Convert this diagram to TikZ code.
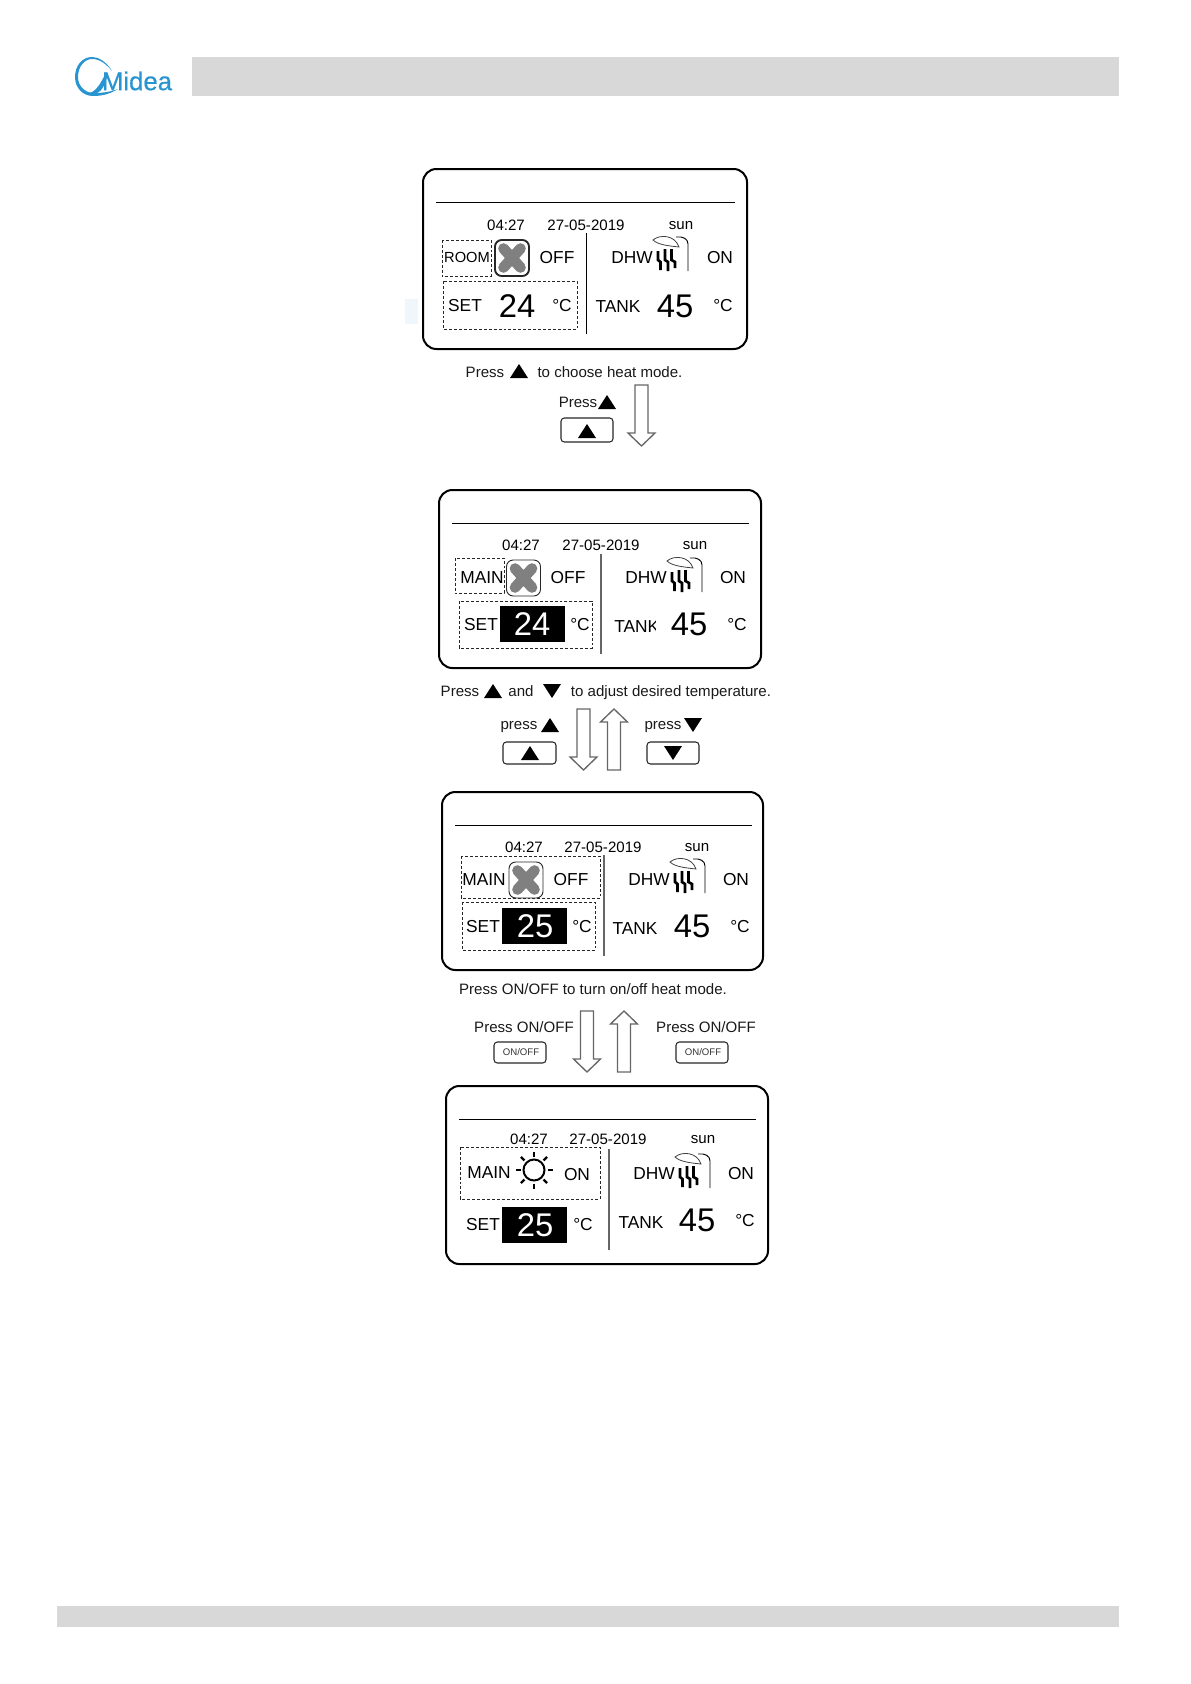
\documentclass[tikz,border=0pt]{standalone}
\usepackage{fontspec}
\setmainfont{Liberation Sans}
\newfontfamily\logofont[FakeBold=0.5]{Liberation Sans}
\usepackage{xcolor}
\definecolor{midablue}{RGB}{40,148,208}
\definecolor{bargray}{RGB}{216,216,216}
\definecolor{fangray}{RGB}{128,128,128}
\definecolor{smudgeblue}{RGB}{240,247,252}
\tikzset{
    lcdtext/.style={inner sep=0pt, font=\fontsize{13}{15}\selectfont},
    roomtext/.style={inner sep=0pt, font=\fontsize{11}{13}\selectfont},
    timetext/.style={inner sep=0pt, font=\fontsize{11.3}{13}\selectfont},
    bigtext/.style={inner sep=0pt, font=\fontsize{24.6}{28}\selectfont},
    invtext/.style={bigtext, text=white},
    notetext/.style={inner sep=0pt, font=\fontsize{11.3}{13}\selectfont, text=black!90},
    tinytext/.style={inner sep=0pt, font=\fontsize{7.2}{9}\selectfont, text=black!80},
    panelbox/.style={draw, line width=1.5pt, rounded corners=10pt},
    dashbox/.style={draw=black!85, line width=0.7pt, dash pattern=on 2.2pt off 1.5pt},
    keybox/.style={draw=black!85, line width=0.8pt, rounded corners=2.5pt},
    headline/.style={line width=0.6pt},
    midline/.style={line width=1.2pt, draw=black!60},
    blockarrow/.style={draw=black!60, line width=1pt, fill=white},
    uptri/.pic={\fill (-9,7) -- (9,7) -- (0,-7) -- cycle;},
    downtri/.pic={\fill (-9,-7) -- (9,-7) -- (0,7) -- cycle;},
    downblock/.pic={\path[blockarrow] (-6.5,0) -- (6.5,0) -- (6.5,48) -- (13.5,48) -- (0,61) -- (-13.5,48) -- (-6.5,48) -- cycle;},
    upblock/.pic={\path[blockarrow] (-6.5,61) -- (6.5,61) -- (6.5,13) -- (13.5,13) -- (0,0) -- (-13.5,13) -- (-6.5,13) -- cycle;},
    fanicon/.pic={
        \draw[line width=#1, rounded corners=5pt, draw=black!85] (-17,-18) rectangle (17,18);
        \draw[fangray, line width=8pt, line cap=round] (-8.5,-9.5) -- (8.5,9.5) (-8.5,9.5) -- (8.5,-9.5);
    },
    showericon/.pic={
        \draw[line width=0.7pt] (0,0) -- (0,-27) .. controls (0,-32) and (-5,-35) .. (-12,-34);
        \draw[line width=0.6pt, draw=black!75, fill=white] (-35,-31) .. controls (-28,-37) and (-13,-36) .. (-9,-24) .. controls (-18,-25) and (-30,-26) .. (-35,-31) -- cycle;
        \draw[line width=2pt] (-30,-20) -- (-30,-11) -- (-27.5,-9) -- (-27.5,-1);
        \draw[line width=2pt] (-23,-22) -- (-23,-11) -- (-20,-9) -- (-20,0);
        \draw[line width=2pt] (-16.5,-22) -- (-16.5,-11) -- (-13,-9) -- (-13,-3);
    },
    sunicon/.pic={
        \draw[line width=1.5pt] (0,0) circle (10.5);
        \foreach \a in {0,45,...,315} {\draw[line width=1.8pt] (\a:13.5) -- (\a:18.5);}
    },
}
\begin{document}
\begin{tikzpicture}[x=0.75pt,y=-0.75pt]
    \useasboundingbox (0,0) rectangle (1191,1684);
    \fill[bargray] (192,57) rectangle (1119,96);
    \fill[bargray] (57,1606) rectangle (1119,1627);
    \fill[midablue] (112,71) .. controls (106,61) and (98,57) .. (92,57) .. controls (82,57) and (75,66) .. (75,77) .. controls (75,88) and (83,96) .. (93,96) .. controls (102,96) and (110,94) .. (118,89) .. controls (110,92) and (102,93) .. (94,93) .. controls (85,93) and (78,86) .. (78,77) .. controls (78,66) and (85,59) .. (92,59) .. controls (100,59) and (106,64) .. (112,71) -- cycle;
    \fill[midablue] (90,93) .. controls (98,90) and (102,80) .. (106,73) -- (108,73) .. controls (106,82) and (103,91) .. (96,93.5) -- cycle;
    \node[inner sep=0pt, text=midablue, font=\logofont\fontsize{19.3}{22}\selectfont] (logo) at (137,81) {Midea};
    \fill[smudgeblue] (405,299) rectangle (418,324);

    \draw[panelbox] (423,169) rectangle (747,349);
    \draw[headline] (436,202) -- (735,202);
    \draw[line width=0.7pt] (586,233) -- (586,334);
    \node[timetext] (timeA) at (506,225) {04:27};
    \node[timetext] (dateA) at (586,225) {27-05-2019};
    \node[timetext] (dayA) at (681,226) {sun};
    \draw[dashbox] (442,240) rectangle (491,276);
    \draw[dashbox] (443,281) rectangle (577,329);
    \node[roomtext] (modeA) at (467,257) {ROOM};
    \pic at (512,258) {fanicon=1.4pt};
    \node[lcdtext] (stateA) at (557,258) {OFF};
    \node[lcdtext] (setA) at (465,306) {SET};
    \node[bigtext] (tempA) at (517,306) {24};
    \node[lcdtext] (unitA) at (562,306) {°C};
    \node[lcdtext] (dhwA) at (632,258) {DHW};
    \pic at (688,271) {showericon};
    \node[lcdtext] (dhwstateA) at (720,258) {ON};
    \node[lcdtext] (tankA) at (618,307) {TANK};
    \node[bigtext] (tanktempA) at (675,306) {45};
    \node[lcdtext] (tankunitA) at (723,306) {°C};

    \node[notetext] (pressA) at (485,372) {Press};
    \pic at (519,371) {uptri};
    \node[notetext] (noteA) at (610,372) {to choose heat mode.};
    \node[notetext] (pressB) at (578,402) {Press};
    \pic at (607,402) {uptri};
    \draw[keybox] (561,418) rectangle (613,442);
    \pic at (587,431) {uptri};
    \pic at (641.5,385) {downblock};

    \draw[panelbox] (439,490) rectangle (761,668);
    \draw[headline] (452,523) -- (749,523);
    \draw[midline] (601,554) -- (601,654);
    \node[timetext] (timeB) at (521,545) {04:27};
    \node[timetext] (dateB) at (601,545) {27-05-2019};
    \node[timetext] (dayB) at (695,546) {sun};
    \draw[dashbox] (455,558) rectangle (504,593);
    \draw[dashbox] (459,601) rectangle (592,648);
    \node[lcdtext] (modeB) at (482,578) {MAIN};
    \pic at (523.5,578) {fanicon=0.7pt};
    \node[lcdtext] (stateB) at (568,578) {OFF};
    \node[lcdtext] (setB) at (481,625) {SET};
    \fill (500,606) rectangle (565,642);
    \node[invtext] (tempB) at (532,624) {24};
    \node[lcdtext] (unitB) at (580,625) {°C};
    \node[lcdtext] (dhwB) at (646,578) {DHW};
    \pic at (702,592) {showericon};
    \node[lcdtext] (dhwstateB) at (733,578) {ON};
    \node[lcdtext, anchor=west] (tankB) at (614,627) {TANK};
    \fill[white] (656,615) rectangle (663,639);
    \node[bigtext] (tanktempB) at (689,624) {45};
    \node[lcdtext] (tankunitB) at (737,625) {°C};

    \node[notetext] (pressC) at (460,691) {Press};
    \pic at (493,691) {uptri};
    \node[notetext] (andC) at (521,691) {and};
    \pic at (552,691) {downtri};
    \node[notetext] (noteC) at (671,693) {to adjust desired temperature.};
    \node[notetext] (pressD) at (519,727) {press};
    \pic at (550,725) {uptri};
    \draw[keybox] (503,742) rectangle (556,764);
    \pic at (530,753) {uptri};
    \node[notetext] (pressE) at (663,727) {press};
    \pic at (693,725) {downtri};
    \draw[keybox] (647,742) rectangle (699,764);
    \pic at (673,753) {downtri};
    \pic at (583.5,709) {downblock};
    \pic at (614,709) {upblock};

    \draw[panelbox] (442,792) rectangle (763,970);
    \draw[headline] (455,825) -- (752,825);
    \draw[midline] (604,855) -- (604,956);
    \node[timetext] (timeC) at (524,847) {04:27};
    \node[timetext] (dateC) at (603,847) {27-05-2019};
    \node[timetext] (dayC) at (697,848) {sun};
    \draw[dashbox] (461,856) rectangle (600,898);
    \draw[dashbox] (462,902) rectangle (595,950);
    \node[lcdtext] (modeC) at (484,880) {MAIN};
    \pic at (526,880) {fanicon=0.7pt};
    \node[lcdtext] (stateC) at (571,880) {OFF};
    \node[lcdtext] (setC) at (483,927) {SET};
    \fill (502,908) rectangle (567,944);
    \node[invtext] (tempC) at (535,926) {25};
    \node[lcdtext] (unitC) at (582,927) {°C};
    \node[lcdtext] (dhwC) at (649,880) {DHW};
    \pic at (705,893) {showericon};
    \node[lcdtext] (dhwstateC) at (736,880) {ON};
    \node[lcdtext] (tankC) at (635,929) {TANK};
    \node[bigtext] (tanktempC) at (692,926) {45};
    \node[lcdtext] (tankunitC) at (740,927) {°C};

    \node[notetext] (noteD) at (593,989) {Press ON/OFF to turn on/off heat mode.};
    \node[notetext] (pressF) at (524,1027) {Press ON/OFF};
    \draw[keybox] (494,1042) rectangle (546,1063);
    \node[tinytext] (keyF) at (521,1052.5) {ON/OFF};
    \node[notetext] (pressG) at (706,1027) {Press ON/OFF};
    \draw[keybox] (676,1042) rectangle (728,1063);
    \node[tinytext] (keyG) at (703,1052.5) {ON/OFF};
    \pic at (587,1011) {downblock};
    \pic at (624,1011) {upblock};

    \draw[panelbox] (446,1086) rectangle (768,1264);
    \draw[headline] (459,1119) -- (756,1119);
    \draw[midline] (609,1149) -- (609,1250);
    \node[timetext] (timeD) at (529,1139) {04:27};
    \node[timetext] (dateD) at (608,1139) {27-05-2019};
    \node[timetext] (dayD) at (703,1140) {sun};
    \draw[dashbox] (460,1147) rectangle (600,1199);
    \node[lcdtext] (modeD) at (489,1173) {MAIN};
    \pic at (534,1170) {sunicon};
    \node[lcdtext] (stateD) at (577,1175) {ON};
    \node[lcdtext] (setD) at (483,1225) {SET};
    \fill (502,1207) rectangle (567,1243);
    \node[invtext] (tempD) at (535,1225) {25};
    \node[lcdtext] (unitD) at (583,1225) {°C};
    \node[lcdtext] (dhwD) at (654,1174) {DHW};
    \pic at (710,1188) {showericon};
    \node[lcdtext] (dhwstateD) at (741,1174) {ON};
    \node[lcdtext] (tankD) at (641,1223) {TANK};
    \node[bigtext] (tanktempD) at (697,1220) {45};
    \node[lcdtext] (tankunitD) at (745,1221) {°C};
\end{tikzpicture}
\end{document}
